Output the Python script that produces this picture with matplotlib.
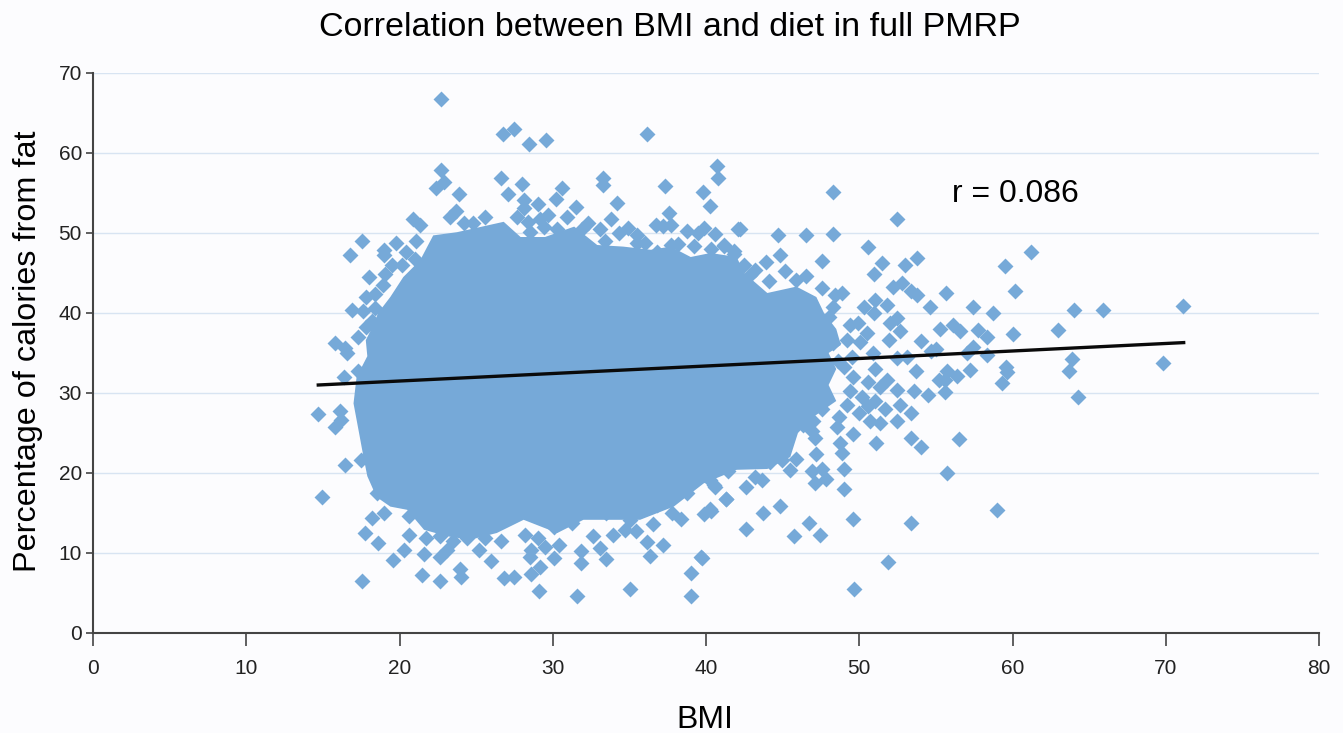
import matplotlib
matplotlib.use("Agg")
import matplotlib.pyplot as plt

plt.rcParams['font.family'] = ['Liberation Sans', 'DejaVu Sans']

# points that can be told apart as (bmi, % fat)
upper_points = [
    (22.7,66.8),(26.74,62.4),(27.48,63.0),(28.48,61.1),(29.57,61.6),(36.14,62.4),
    (22.7,57.9),(22.9,56.4),(22.4,55.6),(23.9,54.9),(26.6,56.9),(27.05,54.9),(28.0,56.1),
    (30.6,55.6),(30.2,54.3),(28.1,54.1),(33.25,56.9),(33.3,56.0),(34.2,53.8),(33.8,51.8),
    (37.3,55.85),(39.8,55.1),(40.75,58.4),(40.8,56.9),(40.25,53.35),(29.05,53.6),(28.1,53.1),
    (27.65,52.0),(31.5,53.3),(29.7,52.2),(29.2,51.8),(25.6,52.0),(24.8,51.3),(24.2,51.2),
    (23.7,52.8),(23.3,52.0),(20.9,51.8),(21.35,51),(17.54,49),(16.8,47.2),(19,47.85),(19,47.2),
    (19.8,48.7),(20.4,47.6),(21.1,49),(18,44.5),(19.05,44.9),(20.15,46),(17.8,42),(18.4,42.4),
    (16.9,40.35),(18.4,40.6),(17.8,38.2),(17.3,37),(15.8,36.2),(16.45,35.6),(33.1,50.5),
    (34.3,50),(34.9,50.6),(35.5,49.7),(35.5,48.7),(36.75,51),(37.2,50.9),(37.7,51),(37.6,52.5),
    (38.75,50.25),(39.5,50),(39.9,50.6),(40.6,49.85),(42.1,50.5),(37.7,48.5),(36.8,47.6),
    (40.3,48),(41.15,48.4),(41.8,47.4),(40.9,46.2),(28.5,50.1),(28.4,51.4),(29.4,50.8),
    (19.5,46),(18.9,43.5),(21,46.8),(18.2,39),(17.6,40.2),(31.9,50.5),(33.4,49),(36,48.8),
    (38.2,48.6),(39.2,48.4),(42.5,46),(43.2,45.4),(30.9,52),(30.3,50.5),(32.3,51.3),
]
right_points = [
    (48.3,55.1),(52.45,51.8),(42.2,50.5),(44.7,49.7),(46.5,49.7),(48.3,49.85),(50.6,48.2),
    (61.2,47.65),(53.8,46.85),(53,46),(51.5,46.3),(50.95,44.9),(59.5,45.9),(47.55,46.5),
    (44.8,47.3),(43.9,46.4),(45.15,45.3),(41.15,48.5),(41.8,47.7),(42.9,44.8),(44.1,44),
    (45.9,44.15),(46.5,44.65),(47.55,43.1),(48.9,42.55),(48.3,40.8),(48.4,42.3),(52.2,43.2),
    (52.8,43.8),(53.4,42.8),(53.8,42.2),(55.65,42.5),(60.15,42.7),(54.6,40.8),(57.4,40.8),
    (58.7,40),(64,40.4),(65.9,40.4),(71.1,40.9),(50.3,40.8),(51,41.65),(51.8,41),(50.95,40),
    (52.45,39.35),(52,38.7),(49.4,38.5),(55.3,38),(56.15,38.5),(56.6,37.7),(57.75,37.9),
    (58.35,37),(60,37.35),(62.95,37.85),(52.65,37.7),(51.95,36.6),(54,36.5),(57.45,35.8),
    (55,35.5),(54.65,35.2),(57,35),(49.2,36.65),(50.5,37.5),(50.05,36.4),(50.9,35),(47.45,35),
    (48.3,36.2),(58.35,34.8),(53.1,34.5),(52.45,34.4),(63.85,34.2),(63.7,32.7),(69.85,33.8),
    (64.3,29.55),(59.6,33.3),(59.65,32.6),(59.3,31.2),(53.7,32.8),(57.2,32.9),(56.4,32.15),
    (55.7,32.7),(55.6,31.65),(55.2,31.65),(51.05,33),(50.6,31.4),(49.6,32),(53.6,30.2),
    (54.5,29.8),(55.6,30.1),(51.8,31.65),(52.45,30.4),(51.35,30.8),(52.65,28.5),(53.4,27.5),
    (52.45,26.45),(51.35,26.2),(50.7,26.45),(48.55,25.8),(49.6,24.9),(47.1,24.35),(51.1,23.7),
    (53.4,24.35),(54.05,23.3),(56.5,24.2),(48.75,23.7),(47.2,39),(48,39.5),(47.4,37.5),
    (49.9,38.75),(48.6,34),(49.5,34.5),(50.2,29.5),(51,29),(49.2,28.5),(50,27.5),(48.7,27),
    (47.6,28),(47,26.5),(46.3,26),(49.4,30.3),(50.6,28.4),(51.7,28),(49,33.2),(46.9,25.3),
]
lower_points = [
    (47.2,22.4),(48.9,22.5),(49,20.5),(47.6,20.55),(46.9,20.2),(47.8,19.2),(47.1,18.8),(49,18),
    (55.7,20),(45.9,21.7),(45.45,20.35),(44.95,21.6),(44.2,21.4),(43.75,22.85),(43.1,21.6),
    (43.65,19.1),(43.2,19.5),(42.6,18.3),(41.45,20.3),(40.25,19.1),(40.6,18.25),(41.3,16.7),
    (40.25,15.55),(39.85,14.9),(44.85,15.85),(43.75,15),(42.6,12.95),(45.75,12.15),(46.7,13.7),
    (47.45,12.3),(49.6,14.25),(53.35,13.7),(51.85,8.85),(49.65,5.55),(59,15.35),(39.75,9.4),
    (14.7,27.4),(15.8,25.7),(16.1,27.7),(16.2,26.65),(16.45,21),(14.95,17),(16.35,32),(17.3,32.7),
    (16.55,35),(17.5,21.65),(18.6,21.2),(18.5,17.5),(18.2,14.4),(19,15),(17.75,12.5),(18.6,11.2),
    (20.65,12.3),(20.6,14.6),(20.3,10.4),(21.6,9.9),(19.55,9.15),(22.65,9.45),(21.45,7.3),
    (22.65,6.5),(23.95,8),(24,7),(17.55,6.5),(21.7,11.85),(22.65,12.1),(23.5,11.45),(23.1,10.4),
    (24.4,11.85),(25.2,10.4),(25.6,11.85),(26.6,11.45),(26,9),(26.8,6.9),(27.45,7),(28.6,7.4),
    (29.15,8.3),(28.5,9.5),(28.55,10.4),(29.5,10.8),(30.05,9.35),(30.4,11),(28.2,12.25),
    (29.05,11.85),(31.85,10.2),(31.85,8.75),(29.1,5.3),(31.55,4.6),(35.05,5.5),(39.05,4.65),
    (39.05,7.55),(39.7,9.45),(33.1,10.6),(33.45,9.3),(32.65,12.1),(33.9,12.3),(36.15,11.35),
    (37.2,11),(36.35,9.65),(34.7,12.9),(35.4,12.8),(36.55,13.65),(38.4,14.2),(37.8,15),(40.3,15.2),
    (41.3,16.8),(38.75,17.5),(40.5,18.5),(31.25,13.7),(30.05,13.3),(33.5,15),(35.05,14.15),(36.8,16),
]

# the middle of the cloud is one solid mass, single points cannot be read there,
# so only its outline is read off and it gets filled in the marker colour
core_bmi = [17.2,17.9,17.8,18.3,18.6,19.4,20.25,21.35,22.2,23.75,26.8,27.9,29.5,31.4,32.9,
            34.6,36.4,37.7,39,40.3,42,42.5,44,45.9,47.2,47.7,48.5,48.8,48,48.5,48,48.5,47,
            46,45.5,44,42,39.85,37.9,35.7,33.5,32,30.3,28.1,26.35,
            24.6,23.1,21.6,20.5,19.4,18.5,17.9,17.65,17.4,17]
core_fat = [32,34.6,36.6,38.5,40,42,44.5,46.6,49.7,50.1,51.4,49.5,49.5,50.8,48.5,
            48.3,47.9,48.3,47,47.5,47,45,42.5,43.3,42,40,38,36,35,33,31,29,27,
            25,22,20.5,20.4,18.7,15.8,14.15,14.15,14.15,12.5,14.15,12.5,
            11.65,12.1,12.9,15.4,15.8,17,19.6,22,24.6,28.7]

fit_bmi = [14.7, 71.17]
fit_fat = [31.0, 36.3]

x_ticks = [0, 10, 20, 30, 40, 50, 60, 70, 80]
y_ticks = [0, 10, 20, 30, 40, 50, 60, 70]

bg = '#FCFCFE'
blue = '#76A9D8'

fig = plt.figure(figsize=(13.43, 7.33), dpi=100, facecolor=bg)
ax = fig.add_axes([93 / 1343, 1 - 633 / 733, (1319 - 93) / 1343, (633 - 73) / 733])
ax.set_facecolor(bg)
ax.set_xlim(0, 80)
ax.set_ylim(0, 70)

ax.yaxis.grid(True, color='#D8E4F2', linewidth=1)
ax.set_axisbelow(True)

ax.fill(core_bmi, core_fat, color=blue, linewidth=0, zorder=2)
points = upper_points + right_points + lower_points
ax.scatter([p[0] for p in points], [p[1] for p in points], marker='D', s=66,
           color=blue, linewidths=0, zorder=2, clip_on=False)
ax.plot(fit_bmi, fit_fat, color='#0A0A0A', linewidth=2.4, zorder=3)

for side in ['top', 'right']:
    ax.spines[side].set_visible(False)
for side in ['left', 'bottom']:
    ax.spines[side].set_color('#444444')
    ax.spines[side].set_linewidth(1.5)

ax.set_xticks(x_ticks)
ax.set_yticks(y_ticks)
ax.tick_params(axis='x', length=9, width=1.2, color='#444444', labelsize=15, pad=10, labelcolor='#222222')
ax.tick_params(axis='y', length=5, width=1.2, color='#444444', labelsize=15, pad=3, labelcolor='#222222')

fig.text(670 / 1343, 1 - 27 / 733, 'Correlation between BMI and diet in full PMRP',
         fontsize=24.5, ha='center', va='center', color='black')
fig.text(28 / 1343, 1 - 351 / 733, 'Percentage of calories from fat',
         fontsize=23.3, rotation=90, ha='center', va='center', color='black')
fig.text(705 / 1343, 1 - 720 / 733, 'BMI', fontsize=23, ha='center', va='center', color='black')
fig.text(1015 / 1343, 1 - 194 / 733, 'r = 0.086', fontsize=23, ha='center', va='center', color='black')

fig.savefig('out.png', dpi=100, facecolor=bg)
